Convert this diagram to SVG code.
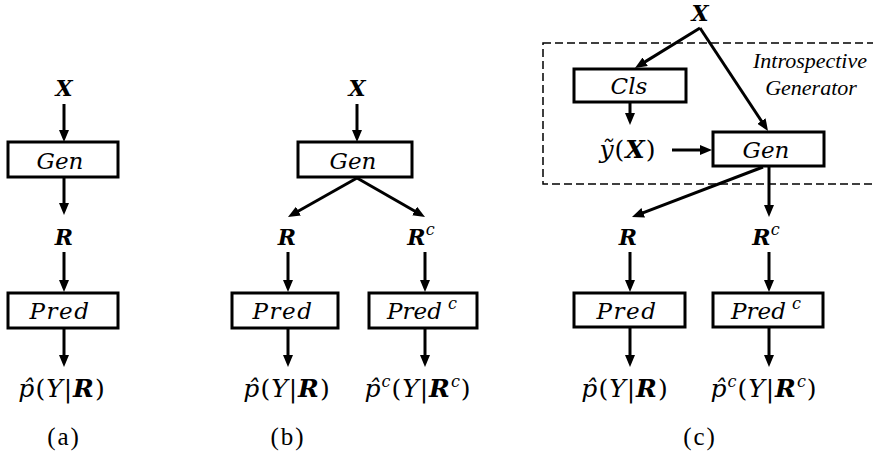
<svg xmlns="http://www.w3.org/2000/svg" width="873" height="458" viewBox="0 0 873 458">
<style>
.box{fill:#fff;stroke:#000;stroke-width:3}
.c{stroke:#000;stroke-width:3;fill:none;marker-end:url(#ah)}
.lbl{font-family:"DejaVu Serif",serif;font-style:italic;font-size:23px;fill:#000;text-anchor:middle}
.p{letter-spacing:1.5px}
.v{font-family:"DejaVu Serif",serif;font-style:italic;font-weight:bold;font-size:22px;fill:#000;text-anchor:middle}
.f{font-family:"DejaVu Serif",serif;font-style:italic;font-size:25px;fill:#000;text-anchor:middle;letter-spacing:1px}
.n{font-style:normal;font-weight:normal}
.b{font-weight:bold}
.sup{font-style:italic;font-weight:normal;font-size:16px}
.cap{font-family:"Liberation Serif",serif;font-size:25px;fill:#000;text-anchor:middle;letter-spacing:2px}
.ig{font-family:"Liberation Serif",serif;font-style:italic;font-size:22px;fill:#000;text-anchor:middle}
</style>
<defs>
<marker id="ah" markerUnits="userSpaceOnUse" markerWidth="12" markerHeight="10" refX="6" refY="5" orient="auto">
<path d="M0,0 L12,5 L0,10 z" fill="#000"/>
</marker>
</defs>

<g id="connectors">
<!-- (a) -->
<line class="c" x1="64" y1="104" x2="64" y2="136"/>
<line class="c" x1="64" y1="177" x2="64" y2="209"/>
<line class="c" x1="64" y1="252" x2="64" y2="286"/>
<line class="c" x1="64" y1="328" x2="64" y2="361"/>
<!-- (b) -->
<line class="c" x1="357" y1="104" x2="357" y2="136"/>
<line class="c" x1="357" y1="178" x2="293.2" y2="214"/>
<line class="c" x1="357" y1="178" x2="419.8" y2="214"/>
<line class="c" x1="288" y1="252" x2="288" y2="286"/>
<line class="c" x1="425" y1="252" x2="425" y2="286"/>
<line class="c" x1="288" y1="328" x2="288" y2="361"/>
<line class="c" x1="425" y1="328" x2="425" y2="361"/>
<!-- (c) -->
<line class="c" x1="700" y1="28" x2="640.1" y2="64.9"/>
<line class="c" x1="700" y1="28" x2="764.7" y2="126"/>
<line class="c" x1="630" y1="102" x2="630" y2="119"/>
<line class="c" x1="672" y1="150" x2="706" y2="150"/>
<line class="c" x1="763" y1="167" x2="637.6" y2="214.9"/>
<line class="c" x1="769" y1="166" x2="769" y2="211"/>
<line class="c" x1="630" y1="252" x2="630" y2="286"/>
<line class="c" x1="769" y1="252" x2="769" y2="286"/>
<line class="c" x1="630" y1="328" x2="630" y2="361"/>
<line class="c" x1="769" y1="328" x2="769" y2="361"/>
</g>

<g id="introspective-generator">
<rect x="543" y="43" width="340" height="141" fill="none" stroke="#000" stroke-width="1.5" stroke-dasharray="8,4"/>
<text class="ig" x="810" y="68">Introspective</text>
<text class="ig" x="811" y="95">Generator</text>
</g>

<!-- panel (a) -->
<g id="a-x"><text class="v" x="64" y="96">X</text></g>
<g id="a-gen"><rect class="box" x="8" y="142" width="110" height="35"/><text class="lbl" x="60" y="169">Gen</text></g>
<g id="a-r"><text class="v" x="64" y="245">R</text></g>
<g id="a-pred"><rect class="box" x="8" y="293" width="110" height="35"/><text class="lbl p" x="60" y="319">Pred</text></g>
<g id="a-out"><text class="f" x="62" y="397">p̂<tspan class="n">(</tspan>Y<tspan class="n">|</tspan><tspan class="b">R</tspan><tspan class="n">)</tspan></text></g>
<g id="a-cap"><text class="cap" x="64" y="445">(a)</text></g>

<!-- panel (b) -->
<g id="b-x"><text class="v" x="357" y="96">X</text></g>
<g id="b-gen"><rect class="box" x="298" y="142" width="114" height="35"/><text class="lbl" x="353" y="169">Gen</text></g>
<g id="b-r"><text class="v" x="287" y="245">R</text></g>
<g id="b-rc"><text class="v" x="421" y="245">R<tspan class="sup" dy="-10">c</tspan></text></g>
<g id="b-pred"><rect class="box" x="232" y="293" width="106" height="35"/><text class="lbl p" x="283" y="319">Pred</text></g>
<g id="b-predc"><rect class="box" x="369" y="293" width="108" height="35"/><text class="lbl" x="422" y="319">Pred<tspan class="sup" dx="6" dy="-10">c</tspan></text></g>
<g id="b-out"><text class="f" x="287" y="397">p̂<tspan class="n">(</tspan>Y<tspan class="n">|</tspan><tspan class="b">R</tspan><tspan class="n">)</tspan></text></g>
<g id="b-outc"><text class="f" x="418" y="397">p̂<tspan class="sup" dy="-10">c</tspan><tspan class="n" dy="10">(</tspan>Y<tspan class="n">|</tspan><tspan class="b">R</tspan><tspan class="sup" dy="-10">c</tspan><tspan class="n" dy="10">)</tspan></text></g>
<g id="b-cap"><text class="cap" x="288" y="445">(b)</text></g>

<!-- panel (c) -->
<g id="c-x"><text class="v" x="700" y="21">X</text></g>
<g id="c-cls"><rect class="box" x="574" y="69" width="112" height="33"/><text class="lbl" x="629" y="94">Cls</text></g>
<g id="c-ytilde"><text class="f" x="628" y="158">ỹ<tspan class="n">(</tspan><tspan class="b">X</tspan><tspan class="n">)</tspan></text></g>
<g id="c-gen"><rect class="box" x="713" y="132" width="111" height="34"/><text class="lbl" x="766" y="158">Gen</text></g>
<g id="c-r"><text class="v" x="628" y="245">R</text></g>
<g id="c-rc"><text class="v" x="766" y="245">R<tspan class="sup" dy="-10">c</tspan></text></g>
<g id="c-pred"><rect class="box" x="574" y="293" width="111" height="34"/><text class="lbl p" x="627" y="319">Pred</text></g>
<g id="c-predc"><rect class="box" x="713" y="293" width="110" height="34"/><text class="lbl" x="766" y="319">Pred<tspan class="sup" dx="6" dy="-10">c</tspan></text></g>
<g id="c-out"><text class="f" x="625" y="397">p̂<tspan class="n">(</tspan>Y<tspan class="n">|</tspan><tspan class="b">R</tspan><tspan class="n">)</tspan></text></g>
<g id="c-outc"><text class="f" x="764" y="397">p̂<tspan class="sup" dy="-10">c</tspan><tspan class="n" dy="10">(</tspan>Y<tspan class="n">|</tspan><tspan class="b">R</tspan><tspan class="sup" dy="-10">c</tspan><tspan class="n" dy="10">)</tspan></text></g>
<g id="c-cap"><text class="cap" x="700" y="445">(c)</text></g>
</svg>
